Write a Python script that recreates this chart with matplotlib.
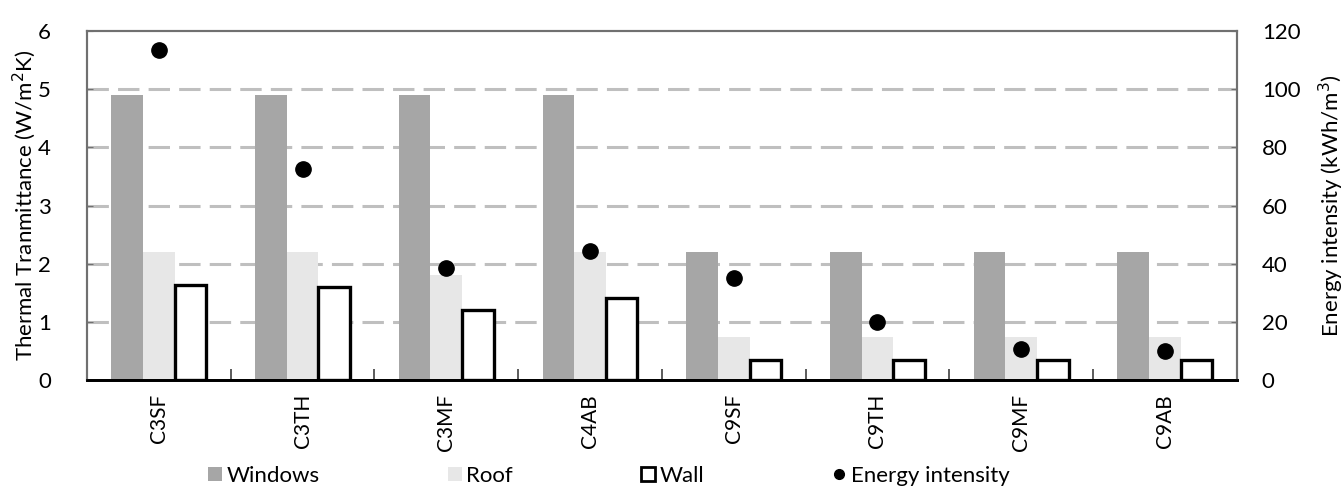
import numpy as np
import matplotlib
matplotlib.use('Agg')
import matplotlib.pyplot as plt
from matplotlib.patches import Patch
from matplotlib.lines import Line2D

plt.rcParams['font.family'] = ['Lato', 'DejaVu Sans']

# data
cases = ['C3SF', 'C3TH', 'C3MF', 'C4AB', 'C9SF', 'C9TH', 'C9MF', 'C9AB']
windows = [4.9, 4.9, 4.9, 4.9, 2.2, 2.2, 2.2, 2.2]
roof = [2.2, 2.2, 1.8, 2.2, 0.74, 0.74, 0.74, 0.74]
wall = [1.63, 1.6, 1.2, 1.41, 0.34, 0.34, 0.34, 0.34]
energy = [113.5, 72.5, 38.7, 44.5, 35.2, 19.8, 10.5, 9.9]

fig = plt.figure(figsize=(13.44, 4.88), dpi=100)
ax = fig.add_axes([0.0647, 0.2213, 0.8555, 0.7147])
ax2 = ax.twinx()

x = np.arange(len(cases))
w = 0.22

# dashed grid behind bars
for yv in range(1, 6):
    ax.axhline(yv, color='#bfbfbf', lw=2.2, dashes=(7, 3), zorder=0)

ax.bar(x - w, windows, w, color='#a6a6a6', zorder=2)
ax.bar(x, roof, w, color='#e7e7e7', zorder=2)
ax.bar(x + w, wall, w, facecolor='white', edgecolor='black', lw=2.4, zorder=3)

ax2.plot(x, energy, 'o', color='black', ms=11, zorder=5)

ax.set_xlim(-0.5, len(cases) - 0.5)
ax.set_ylim(0, 6)
ax2.set_ylim(0, 120)

ax.set_xticks(x)
ax.set_xticklabels(cases, rotation=90, fontsize=15)
ax.set_xticks(np.arange(0.5, len(cases) - 0.5, 1), minor=True)
ax.tick_params(axis='x', which='major', length=0, pad=10)
ax.tick_params(axis='x', which='minor', direction='in', length=8, width=1.2, color='#404040')

ax.set_yticks(range(0, 7))
ax.tick_params(axis='y', direction='in', length=4, pad=26, labelsize=16, color='#707070')
ax2.set_yticks(range(0, 121, 20))
ax2.tick_params(axis='y', direction='in', length=4, pad=18, labelsize=16, color='#707070')

ax.set_ylabel('Thermal Tranmittance (W/m$^2$K)', fontsize=16, labelpad=0)
ax2.set_ylabel('Energy intensity (kWh/m$^3$)', fontsize=16, labelpad=12)

for a in (ax, ax2):
    for s in ['left', 'right', 'top']:
        a.spines[s].set_color('#707070')
        a.spines[s].set_linewidth(1.5)
    a.spines['bottom'].set_color('black')
    a.spines['bottom'].set_linewidth(2)
ax.set_zorder(ax2.get_zorder() - 1)
ax2.patch.set_visible(False)

handles = [
    Patch(facecolor='#a6a6a6', edgecolor='none'),
    Patch(facecolor='#e7e7e7', edgecolor='none'),
    Patch(facecolor='white', edgecolor='black', lw=2),
    Line2D([], [], marker='o', color='black', ls='none', ms=7),
]
fig.legend(handles, ['Windows', 'Roof', 'Wall', 'Energy intensity'],
           loc='center', bbox_to_anchor=(0.453, 0.025), ncol=4, frameon=False,
           fontsize=16, handlelength=0.6, handleheight=0.6, handletextpad=0.2,
           columnspacing=5.8)

fig.savefig('out.png', dpi=100)
